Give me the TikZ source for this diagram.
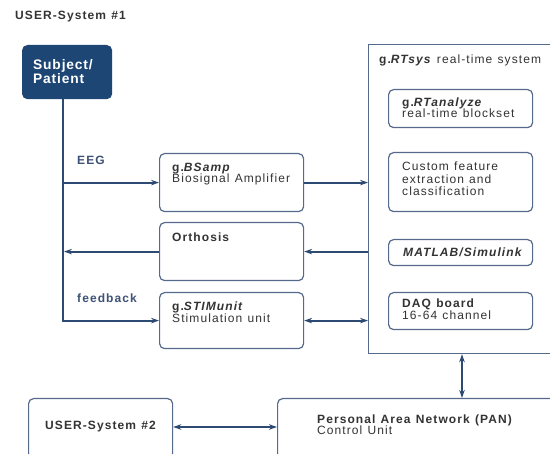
\documentclass[tikz,border=0pt]{standalone}
\usepackage{fontspec}
\setmainfont{Liberation Sans}
\usetikzlibrary{arrows.meta}
\definecolor{navy}{HTML}{1D4674}
\definecolor{conncol}{HTML}{2C4A72}
\definecolor{boxcol}{HTML}{55698A}
\definecolor{txt}{HTML}{333333}
\definecolor{lblcol}{HTML}{3D5275}
\newfontfamily\spaced[LetterSpace=9,WordSpace=1.2]{Liberation Sans}
\newfontfamily\subjfont[LetterSpace=6]{Liberation Sans}
\tikzset{
  box/.style={draw=boxcol, line width=1.2pt, rounded corners=5pt, anchor=north west, inner sep=0pt},
  sqbox/.style={draw=boxcol, line width=1.2pt, anchor=north west, inner sep=0pt},
  conn/.style={draw=conncol, line width=2.1pt},
  tip/.style={-{Stealth[length=8pt,width=5.5pt]}},
  dtip/.style={{Stealth[length=8pt,width=5.5pt]}-{Stealth[length=8pt,width=5.5pt]}},
  lbl/.style={anchor=base west, inner sep=0pt, text=txt, font=\spaced\fontsize{12}{11.5}\selectfont, align=left},
  blbl/.style={anchor=base west, inner sep=0pt, text=lblcol, font=\spaced\fontsize{12}{12}\selectfont\bfseries},
}
\begin{document}
\begin{tikzpicture}[x=1pt,y=-1pt]
\clip (0,0) rectangle (550,454);
\fill[white] (0,0) rectangle (550,454);

\node[lbl, font=\spaced\fontsize{12}{12}\selectfont\bfseries] (title) at (15,20) {USER-System \#1};

% Subject
\node[box, draw=navy, fill=navy, minimum width=89pt, minimum height=53pt] (subj) at (22,45) {};
\node[anchor=base west, inner sep=0pt, text=white, align=left, font=\subjfont\fontsize{13.8}{14}\selectfont\bfseries] (subjt) at (33,84) {Subject/\\Patient};

% left boxes
\node[box, minimum width=144pt, minimum height=58pt] (bsamp) at (159,153) {};
\node[lbl] (bsampt) at (172,183) {\textbf{g.\textit{BSamp}}\\Biosignal Amplifier};
\node[box, minimum width=144pt, minimum height=58pt] (orth) at (159,222) {};
\node[lbl] (ortht) at (172,242) {\textbf{Orthosis}};
\node[box, minimum width=144pt, minimum height=56pt] (stim) at (159,292) {};
\node[lbl] (stimt) at (172,323) {\textbf{g.\textit{STIMunit}}\\[0.5pt]Stimulation unit};

% RTsys
\node[sqbox, minimum width=200pt, minimum height=309pt] (rt) at (368,44) {};
\node[lbl] (rtt) at (379,64) {\textbf{g.\textit{RTsys}} real-time system};
\node[box, minimum width=144pt, minimum height=38pt] (rta) at (388,89) {};
\node[lbl] (rtat) at (402,118) {\textbf{g.\textit{RTanalyze}}\\real-time blockset};
\node[box, minimum width=144pt, minimum height=59pt] (cust) at (388,152) {};
\node[lbl, font=\spaced\fontsize{12}{12.5}\selectfont] (custt) at (402,196) {Custom feature\\extraction and\\classification};
\node[box, minimum width=144pt, minimum height=26pt] (mat) at (388,239) {};
\node[lbl] (matt) at (403,257) {\textbf{\textit{MATLAB/Simulink}}};
\node[box, minimum width=144pt, minimum height=37pt] (daq) at (388,292) {};
\node[lbl] (daqt) at (402,320) {\textbf{DAQ board}\\[0.5pt]16-64 channel};

% bottom boxes
\node[box, minimum width=144pt, minimum height=60pt] (us2) at (28,398) {};
\node[lbl] (us2t) at (45,430) {\textbf{USER-System \#2}};
\node[box, minimum width=300pt, minimum height=60pt] (pan) at (277,398) {};
\node[lbl] (pant) at (317,435) {\textbf{Personal Area Network (PAN)}\\Control Unit};

% labels
\node[blbl] (eeg) at (77,165) {EEG};
\node[blbl] (fb) at (77,303) {feedback};

% connectors
\coordinate (tx) at (63,0);
\coordinate (px) at (462,0);
\coordinate (ux) at (0,427);
\draw[conn, tip] (subj.south -| tx) |- (stim.west);
\draw[conn, tip] (tx |- bsamp.west) -- (bsamp.west);
\draw[conn, tip] (orth.west) -- ([xshift=1pt]tx |- orth.west);
\draw[conn, tip] (bsamp.east) -- (rt.west |- bsamp.east);
\draw[conn, tip] (rt.west |- orth.east) -- (orth.east);
\draw[conn, dtip] (stim.east) -- (rt.west |- stim.east);
\draw[conn, dtip] (rt.south -| px) -- (pan.north -| px);
\draw[conn, dtip] (us2.east |- ux) -- (pan.west |- ux);
\end{tikzpicture}
\end{document}
